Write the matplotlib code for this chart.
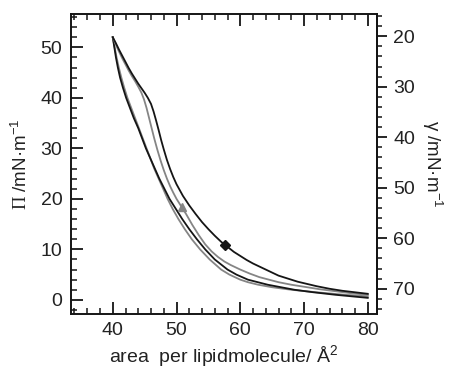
import matplotlib
matplotlib.use('Agg')
import matplotlib.pyplot as plt
from matplotlib.ticker import MultipleLocator

# ---- data ----
# black upper (compression 1)
a_x = [40.0, 40.5, 41.0, 41.5, 42.0, 42.5, 43.0, 43.5, 44.0, 44.5, 45.0, 45.5, 46.0, 46.4,
       46.8, 47.2, 47.6, 48.0, 48.5, 49.0, 49.5, 50.0, 51.0, 52.0, 53.0, 54.0, 55.0, 56.0,
       57.0, 58.0, 59.0, 60.0, 61.0, 62.0, 63.0, 64.0, 65.0, 66.0, 67.0, 68.0, 69.0, 70.0,
       72.0, 74.0, 76.0, 78.0, 80.0]
a_y = [52.0, 50.8, 49.5, 48.3, 47.1, 45.9, 44.8, 43.8, 42.8, 41.9, 41.0, 40.0, 38.8, 37.3,
       35.5, 33.6, 31.6, 29.8, 27.7, 25.9, 24.3, 22.9, 20.6, 18.7, 17.0, 15.4, 14.0, 12.7,
       11.5, 10.5, 9.5, 8.7, 7.9, 7.2, 6.6, 6.0, 5.4, 4.8, 4.4, 4.0, 3.6, 3.3,
       2.7, 2.2, 1.8, 1.5, 1.2]
# gray upper (compression 2)
b_x = [40.0, 40.5, 41.0, 41.5, 42.0, 42.5, 43.0, 43.5, 44.0, 44.5, 44.9, 45.3, 45.7, 46.1,
       46.5, 47.0, 47.5, 48.0, 48.5, 49.0, 49.5, 50.0, 50.8, 51.5, 52.5, 53.5, 54.5, 55.5,
       56.5, 57.5, 58.5, 60.0, 61.5, 63.0, 64.5, 66.0, 68.0, 70.0, 72.5, 75.0, 77.5, 80.0]
b_y = [52.0, 50.5, 49.1, 47.8, 46.6, 45.4, 44.3, 43.3, 42.2, 41.0, 39.7, 38.0, 36.0, 34.0,
       32.0, 29.7, 27.6, 25.7, 24.0, 22.5, 21.2, 20.0, 18.4, 17.0, 14.8, 12.8, 11.0, 9.6,
       8.5, 7.6, 6.9, 6.0, 5.2, 4.5, 4.0, 3.5, 3.0, 2.6, 2.1, 1.7, 1.3, 1.0]
# black lower (expansion 1)
c_x = [40.0, 40.25, 40.5, 40.8, 41.15, 41.6, 42.1, 42.7, 43.3, 44.0, 44.6, 45.2, 45.9, 46.6,
       47.3, 48.1, 48.9, 49.9, 50.9, 52.0, 53.2, 54.5, 56.0, 58.0, 59.4, 61.2, 64.3, 68.5,
       71.5, 75.0, 77.5, 80.0]
c_y = [52.0, 50.0, 48.0, 46.0, 44.0, 42.0, 40.0, 38.0, 36.0, 34.0, 32.0, 30.0, 28.0, 26.0,
       24.0, 22.0, 20.0, 18.0, 16.0, 14.0, 12.0, 10.0, 8.0, 6.0, 5.0, 4.0, 3.0, 2.0,
       1.5, 1.0, 0.7, 0.4]
# gray lower (expansion 2)
d_x = [40.0, 40.3, 40.6, 40.95, 41.35, 41.8, 42.3, 42.9, 43.5, 44.1, 44.7, 45.3, 45.9, 46.5,
       47.2, 47.9, 48.6, 49.4, 50.3, 51.3, 52.4, 53.7, 55.2, 57.0, 58.3, 60.0, 61.2, 62.8,
       65.0, 68.0, 72.0, 76.5, 80.0]
d_y = [52.0, 50.0, 48.0, 46.0, 44.0, 42.0, 40.0, 38.0, 36.0, 34.0, 32.0, 30.0, 28.0, 26.0,
       24.0, 22.0, 20.0, 18.0, 16.0, 14.0, 12.0, 10.0, 8.0, 6.0, 5.0, 4.0, 3.5, 3.0,
       2.5, 2.0, 1.5, 1.0, 0.7]

marker_black = (57.6, 10.9)
marker_gray = (50.8, 18.4)

x_ticks = [40, 50, 60, 70, 80]
pi_ticks = [0, 10, 20, 30, 40, 50]
gamma_ticks = [20, 30, 40, 50, 60, 70]
GAMMA0 = 72.2  # gamma = GAMMA0 - Pi

plt.rcParams['font.family'] = ['Liberation Sans', 'DejaVu Sans']
plt.rcParams['mathtext.fontset'] = 'custom'
plt.rcParams['mathtext.rm'] = 'Liberation Serif'
plt.rcParams['mathtext.sf'] = 'Liberation Sans'

BLACK = '#151515'
GRAY = '#858585'
TXT = '#222222'

fig = plt.figure(figsize=(4.53, 3.71), dpi=100)
ax = fig.add_axes([0.156, 0.1536, 0.6756, 0.8087])

lw = 1.3
ax.plot(d_x, d_y, color=GRAY, lw=lw, solid_joinstyle='round')
ax.plot(c_x, c_y, color=BLACK, lw=lw, solid_joinstyle='round')
ax.plot(b_x, b_y, color=GRAY, lw=lw, solid_joinstyle='round')
ax.plot(a_x, a_y, color=BLACK, lw=lw, solid_joinstyle='round')
ax.plot([marker_black[0]], [marker_black[1]], marker='D', ms=5, color=BLACK, ls='none')
ax.plot([marker_gray[0]], [marker_gray[1]], marker='^', ms=6, color=GRAY, ls='none')

ax.set_xlim(33.4, 81.4)
ax.set_ylim(-2.8, 56.6)

for s in ax.spines.values():
    s.set_linewidth(1.4)
    s.set_color(BLACK)

FS = 14
ax.set_xticks(x_ticks)
ax.set_yticks(pi_ticks)
ax.xaxis.set_minor_locator(MultipleLocator(2))
ax.yaxis.set_minor_locator(MultipleLocator(2))
ax.tick_params(axis='x', which='both', direction='in', top=True, bottom=True,
               colors=BLACK, labelcolor=TXT, labelsize=FS, pad=6)
ax.tick_params(axis='y', which='both', direction='in', left=True, right=False,
               colors=BLACK, labelcolor=TXT, labelsize=FS, pad=6)
ax.tick_params(which='major', length=8.5, width=1.3)
ax.tick_params(which='minor', length=4.3, width=1.1)

sec = ax.secondary_yaxis('right', functions=(lambda p: GAMMA0 - p, lambda g: GAMMA0 - g))
sec.set_yticks(gamma_ticks)
sec.yaxis.set_minor_locator(MultipleLocator(2))
sec.spines['right'].set_linewidth(1.4)
sec.tick_params(which='both', direction='out', colors=BLACK, labelcolor=TXT, labelsize=FS, pad=5)
sec.tick_params(which='major', length=7, width=1.3)
sec.tick_params(which='minor', length=3.6, width=1.1)

ax.set_xlabel(r'area  per lipidmolecule/ Å$^{\mathsf{2}}$', fontsize=14, color=TXT, labelpad=3)
ax.set_ylabel(r'$\Pi$ /mN·m$^{\mathsf{-1}}$', fontsize=13.5, color=TXT, labelpad=7)
sec.set_ylabel(r'γ /mN·m$^{\mathsf{-1}}$', fontsize=13.5, color=TXT, rotation=270, labelpad=21)

fig.savefig('out.png', dpi=100)
